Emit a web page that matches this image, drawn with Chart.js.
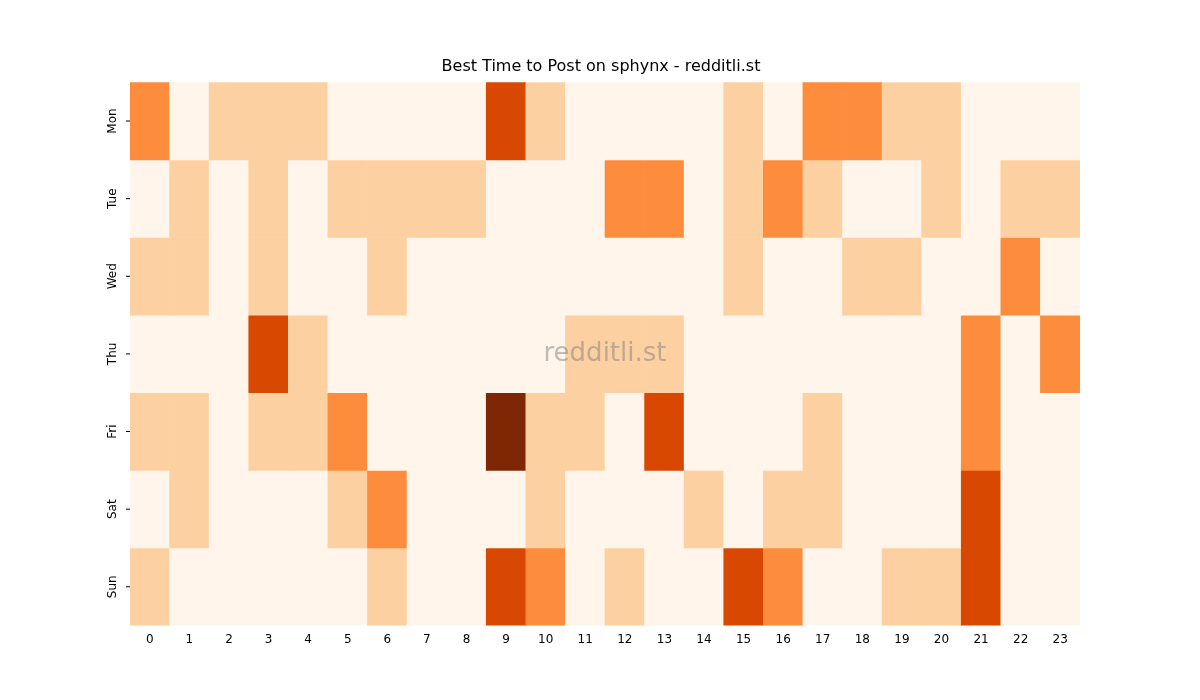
<!DOCTYPE html><html><head><script src="https://cdn.jsdelivr.net/npm/chart.js@4"></script>
<style>body{margin:0;background:#fff}#w{width:1200px;height:700px}</style></head><body><div id="w"><canvas id="c"></canvas></div>
<script>
const hours=[...Array(24).keys()].map(String);
const days=["Mon","Tue","Wed","Thu","Fri","Sat","Sun"];
const mon=[2,0,1,1,1,0,0,0,0,3,1,0,0,0,0,1,0,2,2,1,1,0,0,0];
const tue=[0,1,0,1,0,1,1,1,1,0,0,0,2,2,0,1,2,1,0,0,1,0,1,1];
const wed=[1,1,0,1,0,0,1,0,0,0,0,0,0,0,0,1,0,0,1,1,0,0,2,0];
const thu=[0,0,0,3,1,0,0,0,0,0,0,1,1,1,0,0,0,0,0,0,0,2,0,2];
const fri=[1,1,0,1,1,2,0,0,0,4,1,1,0,3,0,0,0,1,0,0,0,2,0,0];
const sat=[0,1,0,0,0,1,2,0,0,0,1,0,0,0,1,0,1,1,0,0,0,3,0,0];
const sun=[1,0,0,0,0,0,1,0,0,3,2,0,1,0,0,3,2,0,0,1,1,3,0,0];
const rows=[mon,tue,wed,thu,fri,sat,sun];
const palette=["#fff5eb","#fdd0a2","#fd8d3c","#d94801","#7f2704"];
const datasets=rows.map((r,i)=>({label:days[i],data:r.map(()=>[i,i+1]),backgroundColor:r.map(v=>palette[v]),borderWidth:0,categoryPercentage:1,barPercentage:1,grouped:false}));
const extra={id:'extra',afterDatasetsDraw(ch){const {ctx,scales:{y},chartArea:a}=ch;ctx.save();
ctx.fillStyle='#000';ctx.font='12px "DejaVu Sans"';ctx.textAlign='center';ctx.textBaseline='middle';
days.forEach((d,i)=>{const p=y.getPixelForValue(i+0.5);ctx.strokeStyle='#000';ctx.beginPath();ctx.moveTo(a.left,p);ctx.lineTo(a.left-4,p);ctx.stroke();ctx.save();ctx.translate(a.left-17,p);ctx.rotate(-Math.PI/2);ctx.fillText(d,0,0);ctx.restore();});
ctx.fillStyle='rgba(128,128,128,0.5)';ctx.font='26px "DejaVu Sans"';ctx.fillText('redditli.st',(a.left+a.right)/2,(a.top+a.bottom)/2);ctx.restore();}};
new Chart(document.getElementById('c'),{type:'bar',data:{labels:hours,datasets},plugins:[extra],
options:{responsive:true,maintainAspectRatio:false,animation:false,layout:{padding:{left:122,right:120,top:57,bottom:50}},
plugins:{legend:{display:false},tooltip:{enabled:false},title:{display:true,text:'Best Time to Post on sphynx - redditli.st',color:'#000',font:{family:'DejaVu Sans',size:16,weight:'normal'},padding:{top:0,bottom:6}}},
scales:{x:{grid:{display:false,drawTicks:true,tickLength:4},border:{display:false},ticks:{color:'#000',font:{family:'DejaVu Sans',size:12},maxRotation:0,autoSkip:false}},
y:{type:'linear',min:0,max:7,reverse:true,grid:{display:false},border:{display:false},ticks:{display:false}}}}});
</script></body></html>
